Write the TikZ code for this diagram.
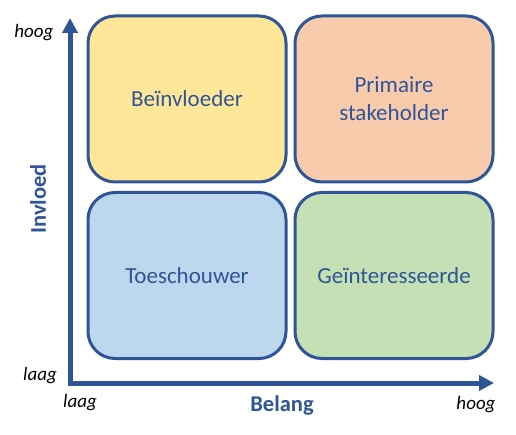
\documentclass[tikz,border=0pt]{standalone}
\usepackage{fontspec}
\setmainfont{Carlito}
\usetikzlibrary{arrows.meta}
\definecolor{axisblue}{HTML}{2F5597}
\definecolor{txtblue}{HTML}{2F5597}
\definecolor{cyellow}{HTML}{FFE699}
\definecolor{cpeach}{HTML}{F8CBAD}
\definecolor{cblue}{HTML}{BDD7EE}
\definecolor{cgreen}{HTML}{C5E0B4}
\tikzset{
  quad/.style={draw=axisblue, line width=3pt, rounded corners=27pt, minimum width=198pt, minimum height=166pt, font=\fontsize{23}{28}\selectfont, text=txtblue, align=center, inner sep=0pt},
  axis/.style={draw=axisblue, line width=5pt, -{Triangle[length=15pt,width=15pt]}},
  ticklbl/.style={font=\fontsize{19}{22}\selectfont\itshape, text=black, inner sep=0pt},
  axlbl/.style={font=\fontsize{22.5}{26}\selectfont\bfseries, text=txtblue, inner sep=0pt}
}
\begin{document}
\begin{tikzpicture}[x=1pt,y=-1pt]
\useasboundingbox (0,0) rectangle (516,435);
\node[quad, fill=cyellow] (infl) at (187,99) {Beïnvloeder};
\node[quad, fill=cpeach] (prim) at (394,99) {Primaire\\stakeholder};
\node[quad, fill=cblue] (toes) at (187,275.5) {Toeschouwer};
\node[quad, fill=cgreen] (gein) at (394,275.5) {Geïnteresseerde};
\coordinate (origin) at (70,383);
\coordinate (ytop) at (70,18);
\coordinate (xend) at (494,383);
\draw[axis] ([xshift=-2.5pt]origin) -- (xend);
\draw[axis] ([yshift=2.5pt]origin) -- (ytop);
\node[ticklbl] (yhigh) at (34,33) {hoog};
\node[ticklbl] (ylow) at (40,376) {laag};
\node[ticklbl] (xlow) at (80,403) {laag};
\node[ticklbl] (xhigh) at (476,405) {hoog};
\node[axlbl] (xlbl) at (282,406) {Belang};
\node[axlbl, rotate=90] (ylbl) at (38,199) {Invloed};
\end{tikzpicture}
\end{document}
